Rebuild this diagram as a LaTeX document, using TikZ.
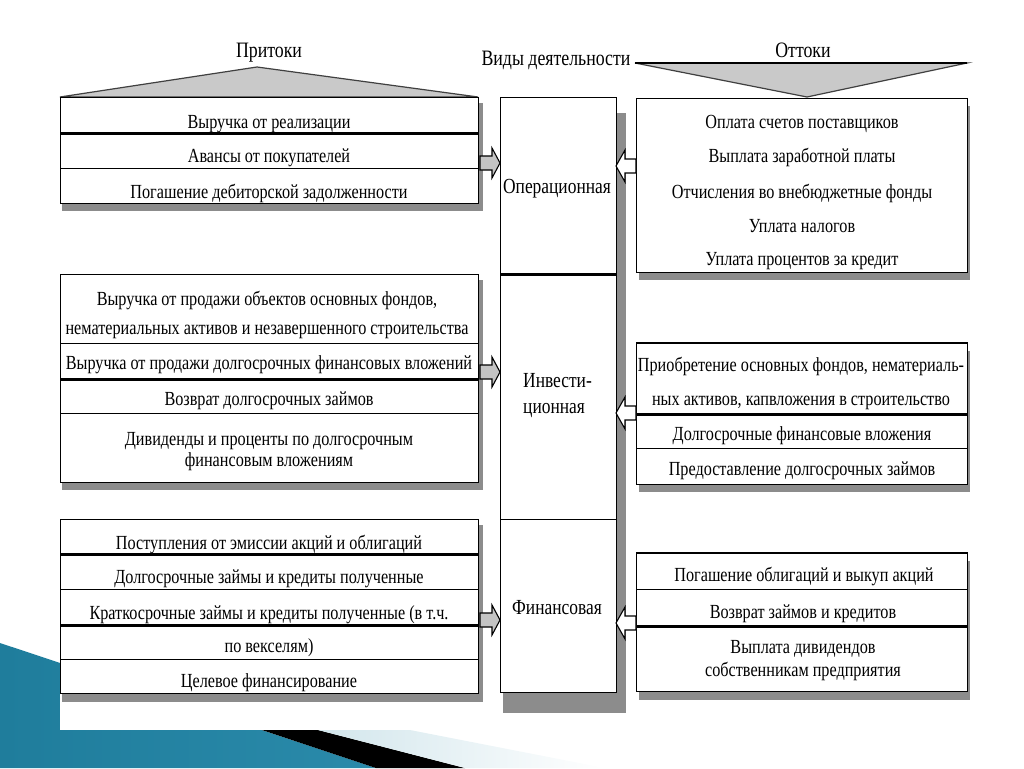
\documentclass[tikz,border=0pt]{standalone}
\usepackage{fontspec}
\setmainfont{Liberation Serif}[FakeStretch=0.81]
\definecolor{shd}{HTML}{8C8C8C}
\definecolor{trif}{HTML}{C9C9C9}
\definecolor{arrf}{HTML}{C4C4C4}
\definecolor{blA}{HTML}{1F7D9C}
\definecolor{blB}{HTML}{4DB3D8}
\definecolor{blC}{HTML}{2A8AAA}
\definecolor{lightband}{HTML}{D2E6EC}
\newcommand\myRarrow[2]{\filldraw[arrR] (#1,{#2-7}) -- ({#1+12},{#2-7}) -- ({#1+12},{#2-15}) -- ({#1+20},#2) -- ({#1+12},{#2+15}) -- ({#1+12},{#2+7}) -- (#1,{#2+7}) -- cycle;}
\newcommand\myLarrow[2]{\filldraw[arrL] (#1,{#2-7}) -- ({#1-11},{#2-7}) -- ({#1-11},{#2-16}) -- ({#1-20},#2) -- ({#1-11},{#2+16}) -- ({#1-11},{#2+7}) -- (#1,{#2+7}) -- cycle;}
\begin{document}
\begin{tikzpicture}[x=1pt,y=-1pt,
  cell/.style={draw=black, line width=1.4pt, fill=white, inner sep=0pt, anchor=north west},
  lcell/.style={cell, minimum width=418pt},
  rcell/.style={cell, minimum width=331pt},
  ccell/.style={cell, minimum width=116pt},
  txt/.style={inner sep=0pt, font=\fontsize{20}{23}\selectfont},
  ctxt/.style={inner sep=0pt, font=\fontsize{21.5}{25}\selectfont},
  htxt/.style={inner sep=0pt, font=\fontsize{22}{25}\selectfont},
  sepline/.style={line width=2.6pt, black},
  arrR/.style={draw=black, line width=1.1pt, fill=arrf},
  arrL/.style={draw=black, line width=1.1pt, fill=white},
  tri/.style={fill=trif, draw=black!75, line width=1.2pt}
]
\useasboundingbox (0,0) rectangle (1024,768);
% slide decoration
\shade[left color=blA, middle color=blB, right color=blC] (0,643) -- (376,768) -- (0,768) -- cycle;
\fill[black] (262,730) -- (318,730) -- (465,768) -- (376,768) -- cycle;
\shade[left color=lightband, right color=white] (318,730) -- (410,730) -- (605,768) -- (465,768) -- cycle;
\fill[white] (60,0) rectangle (1024,730);

% shadows
\fill[shd] (62,103) rectangle (483,211);
\fill[shd] (62,280) rectangle (483,490);
\fill[shd] (62,525) rectangle (483,702);
\fill[shd] (503,113) rectangle (626,713);
\fill[shd] (639,106) rectangle (970,280);
\fill[shd] (639,351) rectangle (970,492);
\fill[shd] (639,561) rectangle (970,700);

% header triangles
\filldraw[tri] (60,97) -- (257,67) -- (478,97) -- cycle;
\filldraw[tri] (635,63) -- (967,63) -- (807,97) -- cycle;
\draw[line width=2.4pt] (635,63) -- (967,63);

% headers
\node[htxt, anchor=base] (hin) at (269,58) {Притоки};
\node[htxt, anchor=base] (hvid) at (556,66) {Виды деятельности};
\node[htxt, anchor=base] (hout) at (803,57) {Оттоки};

% left: operational inflows
\node[lcell, minimum height=35pt] (lt1) at (60,97) {};
\node[lcell, minimum height=36pt] (lt2) at (60,132) {};
\node[lcell, minimum height=35pt] (lt3) at (60,168) {};
\draw[sepline] (lt1.south west) -- (lt1.south east);
\node[txt, anchor=base] (lt1t) at (269,128) {Выручка от реализации};
\node[txt, anchor=base] (lt2t) at (269,162) {Авансы от покупателей};
\node[txt, anchor=base] (lt3t) at (269,198) {Погашение дебиторской задолженности};

% left: investment inflows
\node[lcell, minimum height=69pt] (lm1) at (60,274) {};
\node[lcell, minimum height=35pt] (lm2) at (60,343) {};
\node[lcell, minimum height=35pt] (lm3) at (60,378) {};
\node[lcell, minimum height=69pt] (lm4) at (60,413) {};
\draw[sepline] (lm2.south west) -- (lm2.south east);
\node[txt, align=center] (lm1t) at (267,315) {Выручка от продажи объектов основных фондов,\\[6pt]нематериальных активов и незавершенного строительства};
\node[txt, anchor=base] (lm2t) at (269,369) {Выручка от продажи долгосрочных финансовых вложений};
\node[txt, anchor=base] (lm3t) at (269,405) {Возврат долгосрочных займов};
\node[txt, align=center] (lm4t) at (269,452) {Дивиденды и проценты по долгосрочным\\[-2pt]финансовым вложениям};

% left: financial inflows
\node[lcell, minimum height=34pt] (lb1) at (60,519) {};
\node[lcell, minimum height=36pt] (lb2) at (60,553) {};
\node[lcell, minimum height=35pt] (lb3) at (60,589) {};
\node[lcell, minimum height=35pt] (lb4) at (60,624) {};
\node[lcell, minimum height=34pt] (lb5) at (60,659) {};
\draw[sepline] (lb1.south west) -- (lb1.south east);
\draw[sepline] (lb3.south west) -- (lb3.south east);
\node[txt, anchor=base] (lb1t) at (269,549) {Поступления от эмиссии акций и облигаций};
\node[txt, anchor=base] (lb2t) at (269,583) {Долгосрочные займы и кредиты полученные};
\node[txt, anchor=base] (lb3t) at (269,619) {Краткосрочные займы и кредиты полученные (в т.ч.};
\node[txt, anchor=base] (lb4t) at (269,652) {по векселям)};
\node[txt, anchor=base] (lb5t) at (269,687) {Целевое финансирование};

% centre: kinds of activity
\node[ccell, minimum height=176pt] (c1) at (500,97) {};
\node[ccell, minimum height=246pt] (c2) at (500,273) {};
\node[ccell, minimum height=173pt] (c3) at (500,519) {};
\draw[sepline] (c1.south west) -- (c1.south east);
\node[ctxt, anchor=base] (c1t) at (557,193) {Операционная};
\node[ctxt, anchor=base west] (c2ta) at (523,387) {Инвести-};
\node[ctxt, anchor=base west] (c2tb) at (523,413) {ционная};
\node[ctxt, anchor=base] (c3t) at (557,614) {Финансовая};

% right: operational outflows
\node[rcell, minimum height=174pt] (rt) at (636,98) {};
\node[txt, anchor=base] (rt1) at (802,128) {Оплата счетов поставщиков};
\node[txt, anchor=base] (rt2) at (802,162) {Выплата заработной платы};
\node[txt, anchor=base] (rt3) at (802,198) {Отчисления во внебюджетные фонды};
\node[txt, anchor=base] (rt4) at (802,232) {Уплата налогов};
\node[txt, anchor=base] (rt5) at (802,265) {Уплата процентов за кредит};

% right: investment outflows
\node[rcell, minimum height=70pt] (rm1) at (636,343) {};
\node[rcell, minimum height=35pt] (rm2) at (636,413) {};
\node[rcell, minimum height=36pt] (rm3) at (636,448) {};
\draw[sepline] (rm1.north west) -- (rm1.north east);
\draw[sepline] (rm1.south west) -- (rm1.south east);
\node[txt, align=center] (rm1t) at (801,383) {Приобретение основных фондов, нематериаль-\\[11pt]ных активов, капвложения в строительство};
\node[txt, anchor=base] (rm2t) at (802,440) {Долгосрочные финансовые вложения};
\node[txt, anchor=base] (rm3t) at (802,475) {Предоставление долгосрочных займов};

% right: financial outflows
\node[rcell, minimum height=36pt] (rb1) at (636,553) {};
\node[rcell, minimum height=36pt] (rb2) at (636,589) {};
\node[rcell, minimum height=66pt] (rb3) at (636,625) {};
\draw[sepline] (rb1.north west) -- (rb1.north east);
\draw[sepline] (rb2.south west) -- (rb2.south east);
\node[txt, anchor=base] (rb1t) at (804,581) {Погашение облигаций и выкуп акций};
\node[txt, anchor=base] (rb2t) at (803,618) {Возврат займов и кредитов};
\node[txt, align=center] (rb3t) at (803,661) {Выплата дивидендов\\[0pt]собственникам предприятия};

% block arrows
\myRarrow{480}{163}
\myRarrow{480}{372}
\myRarrow{480}{620}
\myLarrow{636}{166}
\myLarrow{636}{413}
\myLarrow{636}{623}
\end{tikzpicture}
\end{document}
